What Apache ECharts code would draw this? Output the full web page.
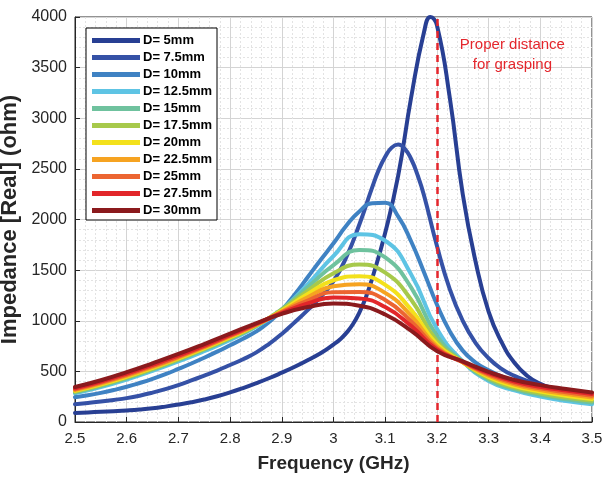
<!DOCTYPE html>
<html>
<head>
<meta charset="utf-8">
<script src="https://cdn.jsdelivr.net/npm/echarts@6/dist/echarts.min.js"></script>
<style>
html,body{margin:0;padding:0;background:#fff;}
#chart{width:604px;height:477px;}
</style>
</head>
<body>
<div id="chart"></div>
<script>
// ---- Data ----
const seriesNames = ['D= 5mm','D= 7.5mm','D= 10mm','D= 12.5mm','D= 15mm','D= 17.5mm','D= 20mm','D= 22.5mm','D= 25mm','D= 27.5mm','D= 30mm'];
const seriesColors = ['#283f93','#3551a6','#3f82c3','#5ec4e4','#6fc29e','#a7c94b','#f3e11c','#f6a321','#ec6531','#e2262a','#8b1a1d'];

const freq5 = [2.5,2.525,2.55,2.575,2.6,2.625,2.65,2.675,2.7,2.725,2.75,2.775,2.8,2.825,2.85,2.875,2.9,2.925,2.95,2.975,2.9875,3.0,3.0125,3.025,3.0375,3.05,3.0625,3.075,3.1,3.125,3.15,3.175,3.1875,3.2,3.225,3.25,3.275,3.3,3.325,3.35,3.375,3.4,3.425,3.45,3.475,3.5];
const d5 = [90,95,101,107,114,123,135,152,172,195,222,254,292,335,382,432,487,545,610,680,720,765,815,880,965,1080,1230,1420,1870,2430,3200,3850,4000,3920,3200,2250,1580,1090,790,585,455,378,332,300,275,255];

const freq7_5 = [2.5,2.525,2.55,2.575,2.6,2.625,2.65,2.675,2.7,2.725,2.75,2.775,2.8,2.825,2.85,2.875,2.9,2.925,2.95,2.975,3.0,3.025,3.05,3.075,3.0875,3.1,3.1125,3.125,3.1375,3.15,3.1625,3.175,3.2,3.225,3.25,3.275,3.3,3.325,3.35,3.375,3.4,3.425,3.45,3.475,3.5];
const d7_5 = [175,188,202,218,236,260,290,325,365,410,458,508,563,620,685,770,870,985,1105,1235,1390,1630,1950,2320,2490,2620,2710,2740,2700,2600,2440,2240,1740,1310,1000,780,630,525,455,405,365,330,300,275,255];

const freqFine = [2.5,2.525,2.55,2.575,2.6,2.625,2.65,2.675,2.7,2.725,2.75,2.775,2.8,2.825,2.85,2.875,2.9,2.925,2.95,2.975,3.0,3.025,3.05,3.075,3.1,3.125,3.15,3.175,3.2,3.225,3.25,3.275,3.3,3.325,3.35,3.375,3.4,3.425,3.45,3.475,3.5];
const d10 = [244,264,288,316,348,385,426,472,524,578,635,695,758,822,892,985,1105,1260,1430,1600,1765,1940,2080,2160,2165,2030,1785,1480,1160,895,705,588,510,452,402,358,318,282,248,218,190];

const freqCoarse = [2.5,2.55,2.6,2.65,2.7,2.75,2.8,2.85,2.9,2.95,3.0,3.05,3.1,3.15,3.2,3.25,3.3,3.35,3.4,3.45,3.5];
const d12_5 = [283,345,420,505,598,700,810,940,1110,1360,1640,1855,1790,1460,920,600,405,312,252,208,175];
const d15   = [292,356,432,518,612,714,822,945,1115,1330,1550,1700,1625,1330,850,595,418,326,268,225,192];
const d17_5 = [300,364,440,526,620,722,830,950,1110,1295,1470,1555,1475,1210,800,592,432,340,284,242,209];
const d20   = [307,372,448,534,628,730,838,955,1100,1265,1400,1440,1355,1110,768,590,446,355,300,259,226];
const d22_5 = [315,380,456,542,636,737,845,958,1092,1232,1340,1360,1275,1050,745,590,458,370,316,276,243];
const d25   = [323,389,466,552,645,745,852,962,1085,1200,1282,1285,1205,995,728,592,470,385,332,293,260];
const d27_5 = [333,400,478,565,657,755,860,968,1075,1170,1230,1220,1135,950,714,595,482,400,348,310,276];
const d30   = [345,412,492,580,672,770,872,975,1068,1135,1170,1148,1062,902,700,598,495,415,364,326,292];

const markerFreq = 3.2;
const annotationText = 'Proper distance\nfor grasping';
const annotationCoord = [3.346, 3625];

const xTicks = {min: 2.5, max: 3.5, step: 0.1};
const yTicks = {min: 0, max: 4000, step: 500};

// ---- Build ----
const xs = [freq5, freq7_5, freqFine, freqCoarse, freqCoarse, freqCoarse, freqCoarse, freqCoarse, freqCoarse, freqCoarse, freqCoarse];
const ys = [d5, d7_5, d10, d12_5, d15, d17_5, d20, d22_5, d25, d27_5, d30];

const FONT = 'Liberation Sans, Arial, Helvetica, sans-serif';
const AX = '#262626';

const series = seriesNames.map((name, i) => ({
  name: name,
  type: 'line',
  data: xs[i].map((f, k) => [f, ys[i][k]]),
  showSymbol: false,
  smooth: 0.5,
  lineStyle: {width: 4, color: seriesColors[i], cap: 'round', join: 'round'},
  itemStyle: {color: seriesColors[i]},
  emphasis: {disabled: true},
  z: 2 + i
}));

series.push({
  name: 'marker',
  type: 'line',
  data: [],
  z: 20,
  markLine: {
    silent: true,
    symbol: 'none',
    label: {show: false},
    lineStyle: {color: '#e4262c', type: [7, 5], width: 2.5},
    data: [{xAxis: markerFreq}]
  },
  markPoint: {
    silent: true,
    symbol: 'circle',
    symbolSize: 0,
    label: {
      show: true,
      position: 'inside',
      formatter: annotationText,
      color: '#e4262c',
      fontFamily: FONT,
      fontSize: 15,
      lineHeight: 20,
      align: 'center'
    },
    data: [{coord: annotationCoord}]
  }
});

const chart = echarts.init(document.getElementById('chart'), null, {renderer: 'canvas'});
chart.setOption({
  animation: false,
  backgroundColor: '#fff',
  grid: {left: 75, right: 12, top: 17, bottom: 55, containLabel: false, outerBoundsMode: 'none', show: true, borderColor: AX, borderWidth: 1, backgroundColor: 'transparent'},
  legend: {
    data: seriesNames,
    orient: 'vertical',
    left: 86,
    top: 28,
    padding: [6, 5, 3, 6],
    itemWidth: 48,
    itemHeight: 5,
    itemGap: 4,
    icon: 'rect',
    backgroundColor: '#fff',
    borderColor: '#000',
    borderWidth: 1,
    borderRadius: 0,
    selectedMode: false,
    textStyle: {fontFamily: FONT, fontWeight: 'bold', fontSize: 13, color: '#000', padding: [0, 0, 0, -2]}
  },
  xAxis: {
    type: 'value',
    min: xTicks.min, max: xTicks.max, interval: xTicks.step,
    name: 'Frequency (GHz)',
    nameLocation: 'middle',
    nameGap: 32,
    nameTextStyle: {fontFamily: FONT, fontWeight: 'bold', fontSize: 19, color: AX},
    axisLine: {show: true, lineStyle: {color: AX, width: 1}},
    axisTick: {show: true, inside: true, length: 5, lineStyle: {color: AX}},
    axisLabel: {fontFamily: FONT, fontSize: 15, color: AX, margin: 9},
    splitLine: {show: true, lineStyle: {color: '#d4d4d4', width: 1}},
    minorTick: {show: false, splitNumber: 5},
    minorSplitLine: {show: true, lineStyle: {color: '#e3e3e3', type: [2, 2], width: 1}}
  },
  yAxis: {
    type: 'value',
    min: yTicks.min, max: yTicks.max, interval: yTicks.step,
    name: 'Impedance [Real] (ohm)',
    nameLocation: 'middle',
    nameGap: 52,
    nameTextStyle: {fontFamily: FONT, fontWeight: 'bold', fontSize: 22, color: AX},
    axisLine: {show: true, lineStyle: {color: AX, width: 1}},
    axisTick: {show: true, inside: true, length: 5, lineStyle: {color: AX}},
    axisLabel: {fontFamily: FONT, fontSize: 16, color: AX, margin: 8, formatter: (v) => String(v)},
    splitLine: {show: true, lineStyle: {color: '#d4d4d4', width: 1}},
    minorTick: {show: false, splitNumber: 5},
    minorSplitLine: {show: true, lineStyle: {color: '#e3e3e3', type: [2, 2], width: 1}}
  },
  series: series
});
</script>
</body>
</html>
